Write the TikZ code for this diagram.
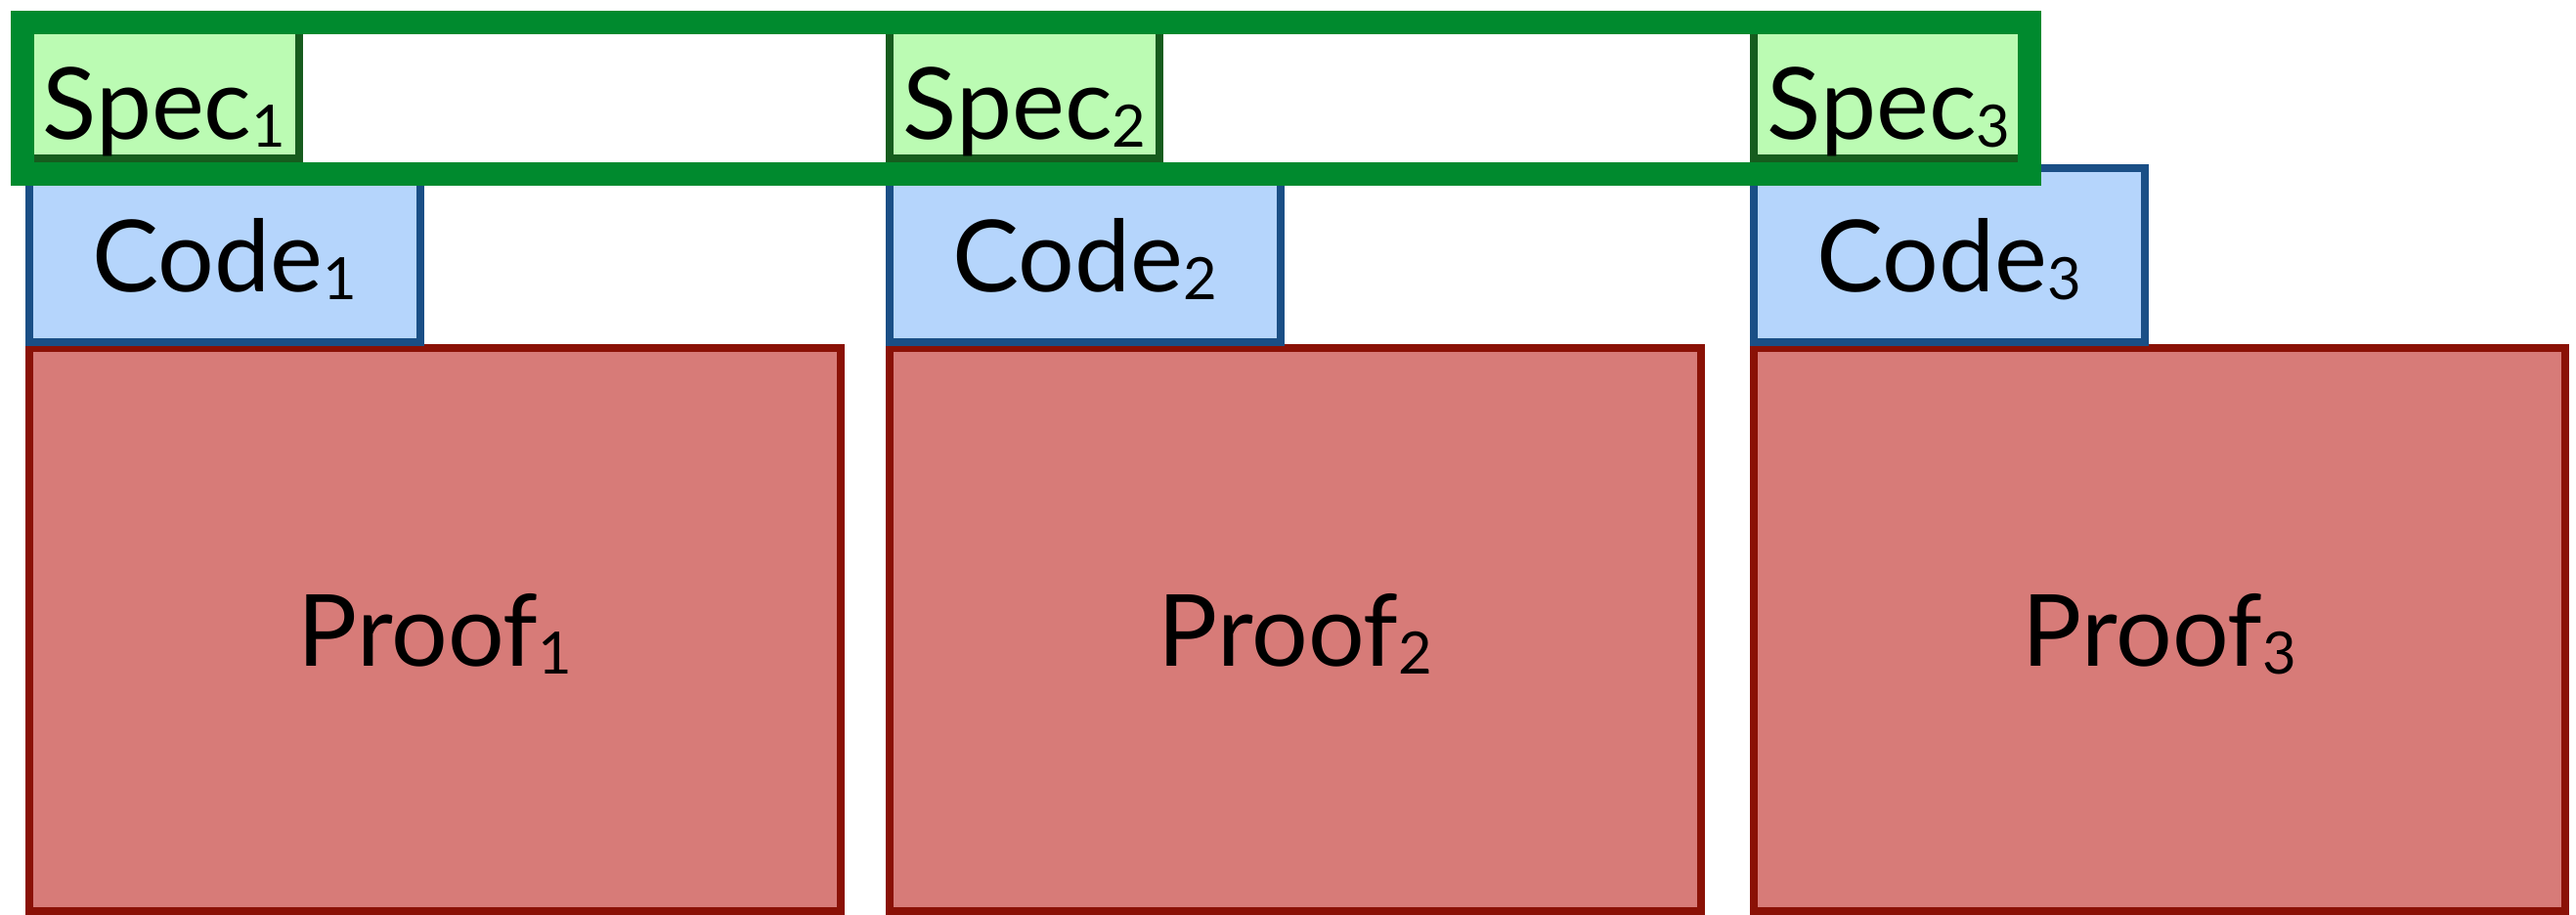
\documentclass[tikz,border=0pt]{standalone}
\usepackage{fontspec}
\setmainfont{Lato}
\usepackage{tikz}
\definecolor{SpecFill}{RGB}{187,251,179}
\definecolor{SpecLine}{RGB}{22,92,30}
\definecolor{SpecFrame}{RGB}{0,138,46}
\definecolor{CodeFill}{RGB}{181,213,252}
\definecolor{CodeLine}{RGB}{26,79,134}
\definecolor{ProofFill}{RGB}{215,123,120}
\definecolor{ProofLine}{RGB}{138,17,6}
\newcommand{\idx}[1]{\raisebox{-2.3pt}{\fontsize{17}{17}\selectfont #1}}
\tikzset{
  part/.style={rectangle,line width=0.08cm,outer sep=0pt,inner sep=0pt,anchor=north west,
    font=\fontsize{29}{29}\selectfont,text depth=0pt},
  specbox/.style={part,draw=SpecLine,fill=SpecFill,minimum width=2.76cm,minimum height=1.32cm,
    text height=0.92cm},
  codebox/.style={part,draw=CodeLine,fill=CodeFill,minimum width=4.00cm,minimum height=1.78cm,
    text height=0.74cm},
  proofbox/.style={part,draw=ProofLine,fill=ProofFill,minimum width=8.30cm,minimum height=5.76cm,
    text height=0.74cm},
  specframe/.style={draw=SpecFrame,line width=0.24cm},
}

\begin{document}
\begin{tikzpicture}
    \useasboundingbox (0,0) rectangle (26.35,-9.35);
    \foreach \i/\x in {1/0.30,2/9.10,3/17.94} {
      \node[proofbox] (proof\i) at (\x,-3.56) {Proof\idx{\i}};
      \node[codebox] (code\i) at (\x,-1.72) {Code\idx{\i}};
      \node[specbox] (spec\i) at (\x,-0.30) {Spec\idx{\i}};
    }
    % one frame round all the specs
    \draw[specframe] (0.23,-0.23) rectangle (20.76,-1.78);
\end{tikzpicture}
\end{document}
